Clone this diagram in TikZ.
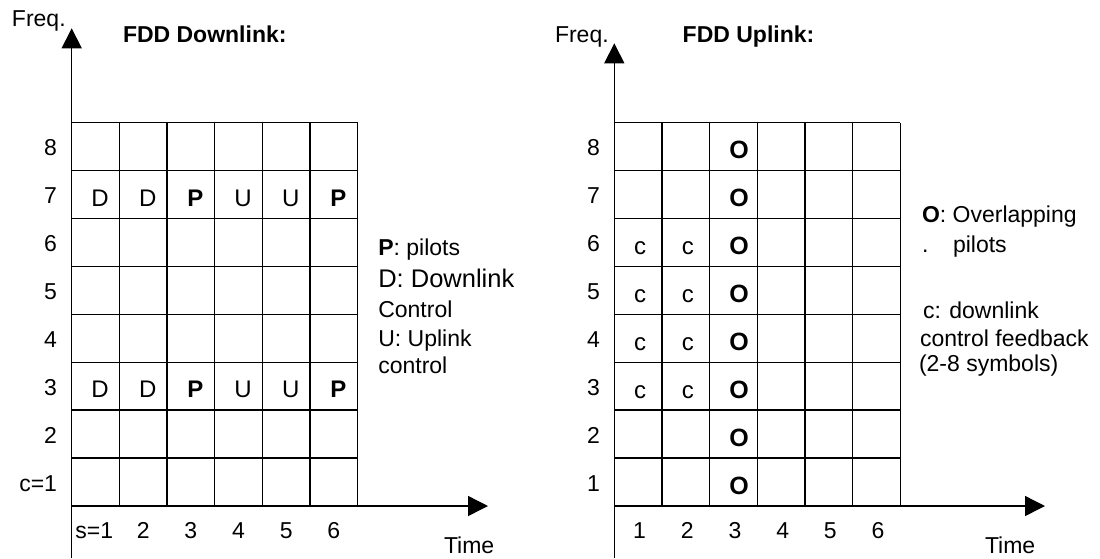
\documentclass[tikz,border=0pt]{standalone}
\usepackage{fontspec}
\setmainfont{Liberation Sans}
\usetikzlibrary{arrows.meta}
\newcommand{\fsz}[1]{\fontsize{#1}{#1}\selectfont}
\begin{document}
\begin{tikzpicture}[x=1pt,y=-1pt,
  gridline/.style={line width=1.4pt},
  axisline/.style={line width=1.4pt,-{Triangle[length=20pt,width=20pt]}},
  txt/.style={inner sep=0pt,outer sep=0pt,font=\fsz{23}},
  lbl/.style={txt,anchor=base east},
  collbl/.style={txt,anchor=base},
  cell/.style={inner sep=0pt,outer sep=0pt,font=\fsz{24},anchor=base},
  leg/.style={txt,anchor=base west},
  titletxt/.style={txt,anchor=base west,font=\fsz{23}\bfseries}
]
\useasboundingbox (0,0) rectangle (1100,558);
\def\LX{71.7}
\def\RX{614.3}
\def\TY{122.7}
\def\W{47.67}
\def\H{47.9}
\def\BY{506}

% ---------------- left: FDD Downlink ----------------
\coordinate (LO) at (\LX,\BY);
\coordinate (Lbot) at (\LX,558);
\coordinate (Ltip) at (\LX,28.3);
\coordinate (Lxtip) at (488,\BY);
\draw[axisline] (Lbot) -- (Ltip);
\draw[axisline] (LO) -- (Lxtip);
\foreach \i in {1,...,6} \draw[gridline] ({\LX+\i*\W},\TY) -- ({\LX+\i*\W},\BY);
\foreach \j in {0,...,7} \draw[gridline] (\LX,{\TY+\j*\H}) -- ({\LX+6*\W},{\TY+\j*\H});

\node[txt,anchor=base west] (Lfreq) at (12,26) {Freq.};
\node[titletxt] (Ltitle) at (123,42.5) {FDD Downlink:};

\node[lbl] (Lr1) at (57,{\BY-0.5*\H+9}) {c=1};
\foreach \r in {2,...,8} \node[lbl] (Lr\r) at (57,{\BY-(\r-0.5)*\H+9}) {\r};
\node[txt,anchor=base west] (Lc1) at (75.4,538) {s=1};
\foreach \c in {2,...,6} \node[collbl] (Lc\c) at ({\LX+(\c-0.5)*\W},538) {\c};
\node[txt,anchor=base west] (Ltime) at (444,553) {Time};

\foreach \row in {3,7}
  \foreach \c/\t in {1/D,2/D,3/\textbf{P},4/U,5/U,6/\textbf{P}}
    \node[cell] (Lk\row\c) at ({\LX+(\c-0.5)*\W+4.5},{\BY-(\row-0.5)*\H+11.5}) {\t};

\node[leg] (Leg1) at (378.3,255) {\textbf{P}: pilots};
\node[leg,font=\fsz{25.5}] (Leg2) at (378.3,287.3) {D: Downlink};
\node[leg] (Leg3) at (378.3,317.3) {Control};
\node[leg] (Leg4) at (378.3,346) {U: Uplink};
\node[leg] (Leg5) at (378.3,373.3) {control};

% ---------------- right: FDD Uplink ----------------
\coordinate (RO) at (\RX,\BY);
\coordinate (Rbot) at (\RX,558);
\coordinate (Rtip) at (\RX,43.3);
\coordinate (Rxtip) at (1045,\BY);
\draw[axisline] (Rbot) -- (Rtip);
\draw[axisline] (RO) -- (Rxtip);
\foreach \i in {1,...,6} \draw[gridline] ({\RX+\i*\W},\TY) -- ({\RX+\i*\W},\BY);
\foreach \j in {0,...,7} \draw[gridline] (\RX,{\TY+\j*\H}) -- ({\RX+6*\W},{\TY+\j*\H});

\node[txt,anchor=base west] (Rfreq) at (555,42.5) {Freq.};
\node[titletxt] (Rtitle) at (682.7,42.5) {FDD Uplink:};

\foreach \r in {1,...,8} \node[lbl] (Rr\r) at (600,{\BY-(\r-0.5)*\H+9}) {\r};
\foreach \c in {1,...,6} \node[collbl] (Rc\c) at ({\RX+(\c-0.5)*\W+1.5},538) {\c};
\node[txt,anchor=base west] (Rtime) at (985,553) {Time};

\foreach \row in {3,...,6}
  \foreach \c in {1,2}
    \node[cell] (Rk\row\c) at ({\RX+(\c-0.5)*\W+2},{\BY-(\row-0.5)*\H+12}) {c};
\foreach \row in {1,...,8}
  \node[cell,font=\fsz{25}\bfseries] (Ro\row) at ({\RX+2.5*\W+5.5},{\BY-(\row-0.5)*\H+12}) {O};

\node[leg] (Rleg1) at (922,222) {\textbf{O}: Overlapping};
\node[leg] (Rleg2a) at (922,252) {.};
\node[leg] (Rleg2b) at (953,252) {pilots};
\node[leg] (Rleg3) at (923,318.3) {c: downlink};
\node[leg] (Rleg4) at (920,346.7) {control feedback};
\node[leg] (Rleg5) at (919,371.7) {(2-8 symbols)};
\end{tikzpicture}
\end{document}
